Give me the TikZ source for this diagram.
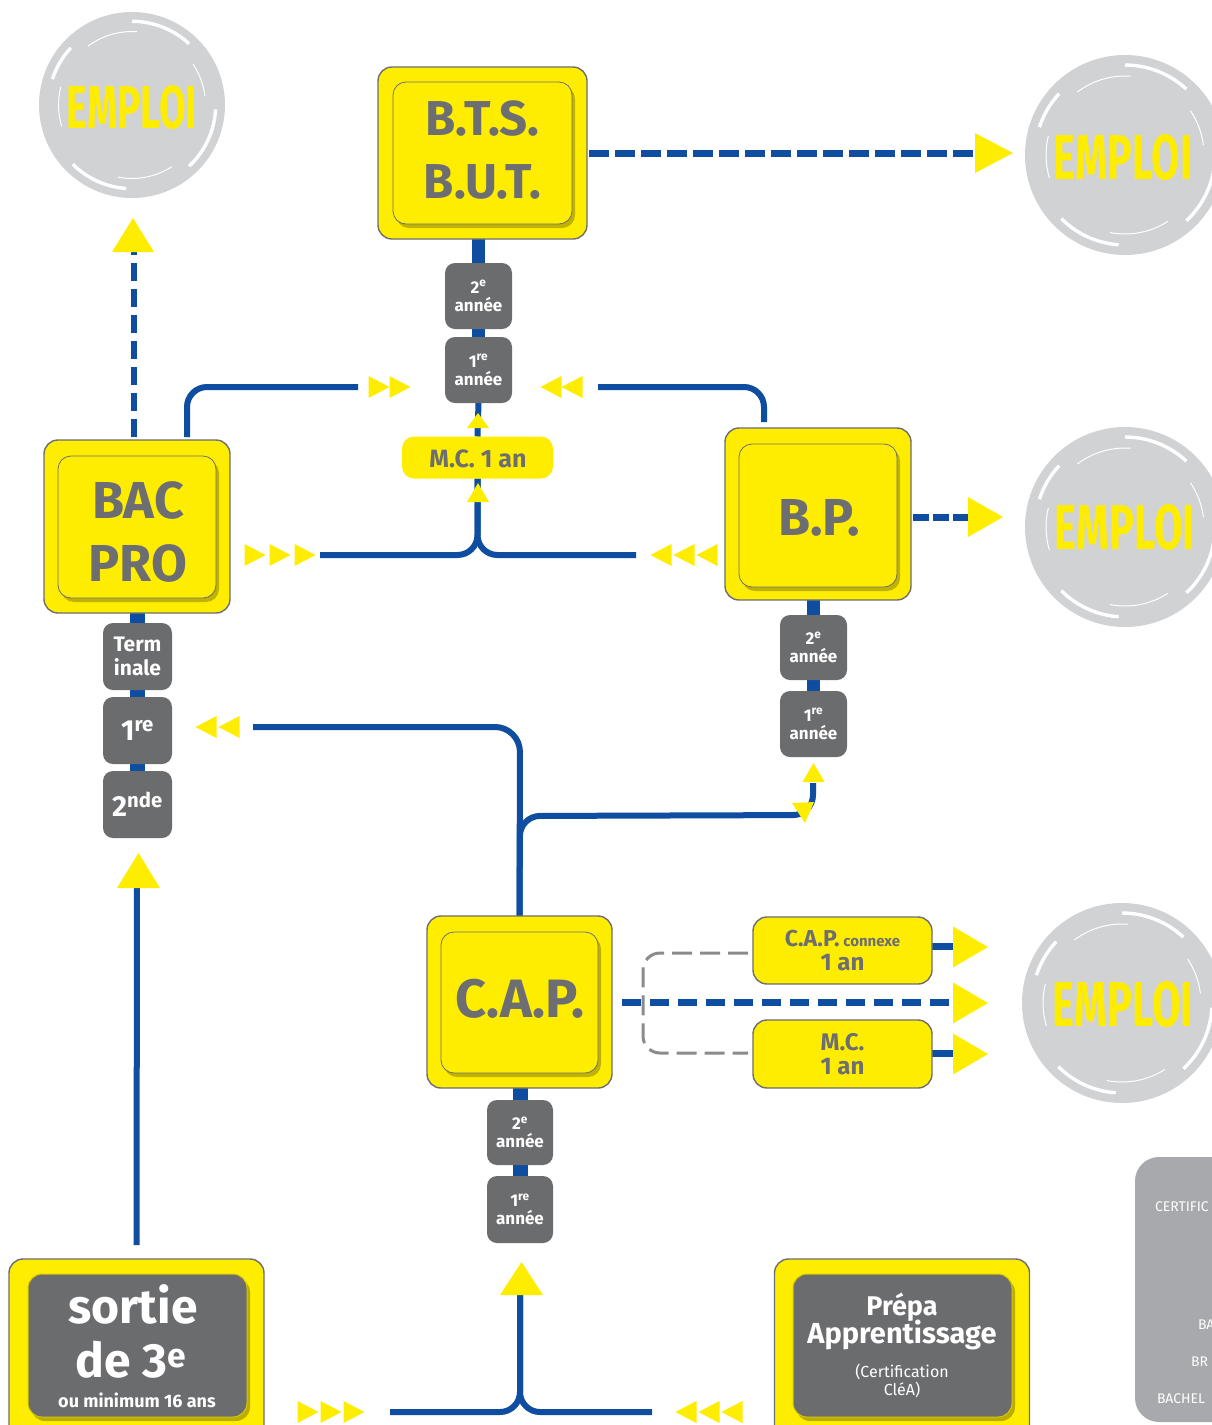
\documentclass[tikz,border=0pt]{standalone}
\usepackage{fontspec}
\usepackage{graphicx}
\setmainfont{Fira Sans}
\usetikzlibrary{shadows,calc,backgrounds}
\definecolor{jaune}{HTML}{FFED00}
\definecolor{bleu}{HTML}{0E4DA0}
\definecolor{gristxt}{HTML}{6D6E71}
\definecolor{grisbox}{HTML}{6B6C6E}
\definecolor{grisrond}{HTML}{D1D2D4}
\definecolor{grispanel}{HTML}{A7A9AC}
\definecolor{grisbord}{HTML}{6D6E71}
\definecolor{grisdash}{HTML}{8A8B8D}
\definecolor{ombre}{HTML}{8C8200}
\newcommand\fsz[2]{\fontsize{#1}{#2}\selectfont}
\tikzset{
  every node/.style={inner sep=0pt, outer sep=0pt},
  outerbox/.style={draw=grisbord, line width=1.4pt, fill=jaune, rounded corners=14pt},
  innerbox/.style={draw=grisbord, line width=0.8pt, fill=jaune, rounded corners=13pt,
    drop shadow={shadow xshift=3pt, shadow yshift=-4pt, fill=ombre, opacity=0.55}},
  innergray/.style={draw=jaune!85!black, line width=1pt, fill=grisbox, rounded corners=14pt,
    drop shadow={shadow xshift=3pt, shadow yshift=-4pt, fill=ombre, opacity=0.6}},
  smallbox/.style={draw=grisbord, line width=1.4pt, fill=jaune, rounded corners=14pt},
  yearbox/.style={fill=grisbox, rounded corners=10pt, text=white, font=\bfseries\fsz{17}{18}, align=center},
  lbl/.style={text=gristxt, anchor=base},
  wlbl/.style={text=white, anchor=base},
  route/.style={draw=bleu, line width=6pt},
  stem/.style={draw=bleu, line width=13pt},
  bdash/.style={draw=bleu, line width=7pt, dash pattern=on 20pt off 6pt},
  gdash/.style={draw=grisdash, line width=3pt, dash pattern=on 20pt off 8pt},
}
% name, cx, cy, r, tx, ty, tw, th
\newcommand\emploi[8]{%
  \node[circle, fill=grisrond, minimum size=2*#4] (#1) at (#2,#3) {};
  \foreach \a/\b in {47/90,137/162,225/266,313/357}
    \draw[white, line width=3.4pt] ([shift={(-\a:0.9*#4)}]#1.center) arc[start angle=-\a, end angle=-\b, radius=0.9*#4];
  \foreach \a/\b in {86/127,166/197,259/303,7/34}
    \draw[white, line width=1pt] ([shift={(-\a:0.79*#4)}]#1.center) arc[start angle=-\a, end angle=-\b, radius=0.79*#4];
  \node[text=jaune] (#1t) at (#5,#6) {\resizebox{#7pt}{#8pt}{\bfseries EMPLOI}};
}
% triangles: center, width, height
\newcommand\trR[3]{\fill[jaune, shift={(#1)}] (-#2/2,-#3/2) -- (#2/2,0) -- (-#2/2,#3/2) -- cycle;}
\newcommand\trL[3]{\fill[jaune, shift={(#1)}] (#2/2,-#3/2) -- (-#2/2,0) -- (#2/2,#3/2) -- cycle;}
\newcommand\trU[3]{\fill[jaune, shift={(#1)}] (-#2/2,#3/2) -- (0,-#3/2) -- (#2/2,#3/2) -- cycle;}
\begin{document}
\begin{tikzpicture}[x=1pt,y=-1pt]
\useasboundingbox (0,0) rectangle (1212,1425);
\clip (0,0) rectangle (1212,1425);

% EMPLOI circles
\emploi{e1}{132}{105}{93}{132}{108}{130}{43}
\emploi{e2}{1125}{155}{100}{1123}{158}{138}{45}
\emploi{e3}{1125}{527}{100}{1125}{528}{140}{45}
\emploi{e4}{1122}{1003}{100}{1123}{1005}{140}{45}

% legend panel
\node[fill=grispanel, rounded corners=24pt, minimum width=150, minimum height=265, anchor=north west] (panel) at (1135,1157) {};
\node[text=white, anchor=base west, font=\fsz{14}{14}] (p1) at (1155,1211) {CERTIFIC};
\node[text=white, anchor=base west, font=\fsz{14}{14}] (p2) at (1198,1329) {BA};
\node[text=white, anchor=base west, font=\fsz{14}{14}] (p3) at (1191,1366) {BR};
\node[text=white, anchor=base west, font=\fsz{14}{14}] (p4) at (1157,1403) {BACHEL};

% B.T.S. / B.U.T.
\node[outerbox, minimum width=209, minimum height=172] (bts) at (482.5,153) {};
\node[innerbox, minimum width=179, minimum height=142] (btsi) at (482.5,153) {};
\node[lbl, font=\bfseries\fsz{49}{49}] (btsa) at (482.5,135) {B.T.S.};
\node[lbl, font=\bfseries\fsz{49}{49}] (btsb) at (482.5,198) {B.U.T.};

% BAC PRO
\node[outerbox, minimum width=186, minimum height=173] (bac) at (137,526.5) {};
\node[innerbox, minimum width=158, minimum height=142] (baci) at (137,527) {};
\node[lbl, font=\bfseries\fsz{52}{52}] (baca) at (138,518) {BAC};
\node[lbl, font=\bfseries\fsz{52}{52}] (bacb) at (138,581) {PRO};

% B.P.
\node[outerbox, minimum width=186, minimum height=172] (bp) at (818,514) {};
\node[innerbox, minimum width=158, minimum height=143] (bpi) at (818,515.5) {};
\node[lbl, font=\bfseries\fsz{52}{52}] (bpt) at (819,535) {B.P.};

% C.A.P.
\node[outerbox, minimum width=185, minimum height=172] (cap) at (519.5,1002) {};
\node[innerbox, minimum width=157, minimum height=141] (capi) at (519.5,1002.5) {};
\node[lbl, font=\bfseries\fsz{54}{54}] (capt) at (520,1017) {C.A.P.};

% sortie de 3e
\node[outerbox, minimum width=255, minimum height=190] (sortie) at (136.5,1354) {};
\node[innergray, minimum width=219, minimum height=143] (sortiei) at (137.5,1345.5) {};
\node[wlbl, font=\bfseries\fsz{48}{48}] (s1) at (133,1323) {sortie};
\node[wlbl, font=\bfseries\fsz{48}{48}] (s2) at (131,1377) {de 3\textsuperscript{e}};
\node[wlbl, font=\bfseries\fsz{18}{18}] (s3) at (137,1407) {ou minimum 16 ans};

% Prepa apprentissage
\node[outerbox, minimum width=255, minimum height=190] (prepa) at (902,1354) {};
\node[innergray, minimum width=219, minimum height=143] (prepai) at (902.5,1345.5) {};
\node[wlbl, font=\bfseries\fsz{27}{27}] (q1) at (902,1315) {Prépa};
\node[wlbl, font=\bfseries\fsz{29}{29}] (q2) at (902,1343) {Apprentissage};
\node[wlbl, font=\fsz{16}{16}] (q3) at (902,1377) {(Certification};
\node[wlbl, font=\fsz{16}{16}] (q4) at (902,1395) {CléA)};

% M.C. 1 an (top)
\node[fill=jaune, rounded corners=12pt, minimum width=151, minimum height=42] (mc) at (477.5,457.5) {};
\node[lbl, font=\bfseries\fsz{25}{25}] (mct) at (478,467) {M.C. 1 an};

% C.A.P. connexe and M.C. (right)
\node[smallbox, minimum width=179, minimum height=67] (capc) at (842.5,950.5) {};
\node[lbl, font=\bfseries\fsz{23}{23}] (capc1) at (842.5,946) {C.A.P.\,{\fsz{15}{15}connexe}};
\node[lbl, font=\bfseries\fsz{24}{24}] (capc2) at (842.5,970) {1 an};
\node[smallbox, minimum width=179, minimum height=68] (mc2) at (842.5,1054) {};
\node[lbl, font=\bfseries\fsz{24}{24}] (mc21) at (842.5,1050) {M.C.};
\node[lbl, font=\bfseries\fsz{24}{24}] (mc22) at (842.5,1074) {1 an};

% year boxes
\node[yearbox, minimum width=67, minimum height=66] (y2a) at (478.5,296) {2\textsuperscript{e}\\année};
\node[yearbox, minimum width=67, minimum height=66] (y1a) at (478.5,370) {1\textsuperscript{re}\\année};
\node[yearbox, minimum width=69, minimum height=67, font=\bfseries\fsz{21}{24}] (term) at (137.5,656.5) {Term\\inale};
\node[yearbox, minimum width=69, minimum height=67, font=\bfseries\fsz{29}{30}] (pre) at (137.5,730.5) {1\textsuperscript{re}};
\node[yearbox, minimum width=69, minimum height=67, font=\bfseries\fsz{29}{30}] (snd) at (137.5,804.5) {2\textsuperscript{nde}};
\node[yearbox, minimum width=67, minimum height=65] (y2b) at (813.5,647.5) {2\textsuperscript{e}\\année};
\node[yearbox, minimum width=67, minimum height=66] (y1b) at (813.5,724) {1\textsuperscript{re}\\année};
\node[yearbox, minimum width=66, minimum height=65] (y2c) at (520,1132.5) {2\textsuperscript{e}\\année};
\node[yearbox, minimum width=66, minimum height=67] (y1c) at (520,1209.5) {1\textsuperscript{re}\\année};

\begin{scope}[on background layer]
\fill[white] (0,0) rectangle (1212,1425);
% stems
\draw[stem] (bts.south -| y2a) -- (y2a.north);
\draw[stem] (y2a.south) -- (y1a.north);
\draw[stem, line width=15pt] (bac.south -| term) -- (term.north);
\draw[stem, line width=15pt] (term.south) -- (pre.north);
\draw[stem, line width=15pt] (pre.south) -- (snd.north);
\draw[stem] (bp.south -| y2b) -- (y2b.north);
\draw[stem] (y2b.south) -- (y1b.north);
\draw[stem, line width=15pt] (cap.south -| y2c) -- (y2c.north);
\draw[stem, line width=15pt] (y2c.south) -- (y1c.north);
% routes
\draw[route] (y1a.south) -- (mc.north);
\draw[route, rounded corners=20pt] (320,555) -- (mc.south |- 0,555) -- (mc.south);
\draw[route, rounded corners=20pt] (636,555) -- (mc.south |- 0,555) -- (mc.south);
\draw[route, rounded corners=20pt] ([xshift=50pt,yshift=3pt]bac.north) -- (187,387) -- (358,387);
\draw[route, rounded corners=20pt] ([xshift=-54pt,yshift=6pt]bp.north) -- (764,387) -- (598,387);
\draw[route, rounded corners=25pt] (cap.north) -- (520,727) -- (253,727);
\draw[route, rounded corners=20pt] (cap.north) -- (520,816) -- (813,815) -- (813,783);
\draw[route] ([yshift=14pt]sortie.north) -- (137,888);
\draw[route, rounded corners=20pt] (390,1412) -- (520,1412) -- (520,1295);
\draw[route, rounded corners=20pt] (652,1412) -- (520,1412) -- (520,1295);
\draw[route, line width=7pt] ([yshift=4.5pt]capc.east) -- ++(21,0);
\draw[route, line width=7pt] ([yshift=1pt]mc2.east) -- ++(21,0);
% dashed
\draw[bdash] ([xshift=2pt]bts.east) -- (975,153);
\draw[bdash, line width=6pt, dash pattern=on 18pt off 8pt] ([xshift=-3pt,yshift=3pt]bac.north) -- (134,252);
\draw[bdash, dash pattern=on 16pt off 4pt] ([xshift=2pt,yshift=-3pt]bp.east) -- (968,517);
\draw[bdash, dash pattern=on 19pt off 9pt] ([xshift=10pt]cap.east) -- (950,1002);
\draw[gdash, rounded corners=17pt] ([xshift=-5pt,yshift=-2.5pt]capc.west) -- (643,953) -- (643,1053) -- ([xshift=-5pt,yshift=1pt]mc2.west);
\end{scope}

% small triangles
\trR{255,555}{21}{22}\trR{280,555}{21}{22}\trR{305,555}{21}{22}
\trR{379,387}{21}{22}\trR{400,387}{21}{22}
\trL{551,387}{21}{22}\trL{572,387}{21}{22}
\trL{661,555}{21}{22}\trL{684,555}{21}{22}\trL{707,555}{21}{22}
\trL{206,727}{21}{22}\trL{229,727}{21}{22}
\trR{308,1412}{21}{22}\trR{331,1412}{21}{22}\trR{354,1412}{21}{22}
\trL{686,1412}{21}{22}\trL{709,1412}{21}{22}\trL{732,1412}{21}{22}
\trU{478,420.5}{22}{15}
\trU{478,492.5}{22}{19}
\trU{813.5,772.5}{22}{19}
\fill[jaune] (792,803) -- (814,802) -- (805,823) -- cycle;
% big triangles
\trR{994,153}{38}{40}
\trR{985.5,517}{35}{40}
\trR{970.5,947}{35}{41}
\trR{970.5,1003}{35}{41}
\trR{970.5,1054}{35}{41}
\trU{133,235}{42}{34}
\trU{138.5,870.5}{43}{35}
\trU{521.5,1278.5}{43}{33}
\end{tikzpicture}
\end{document}
